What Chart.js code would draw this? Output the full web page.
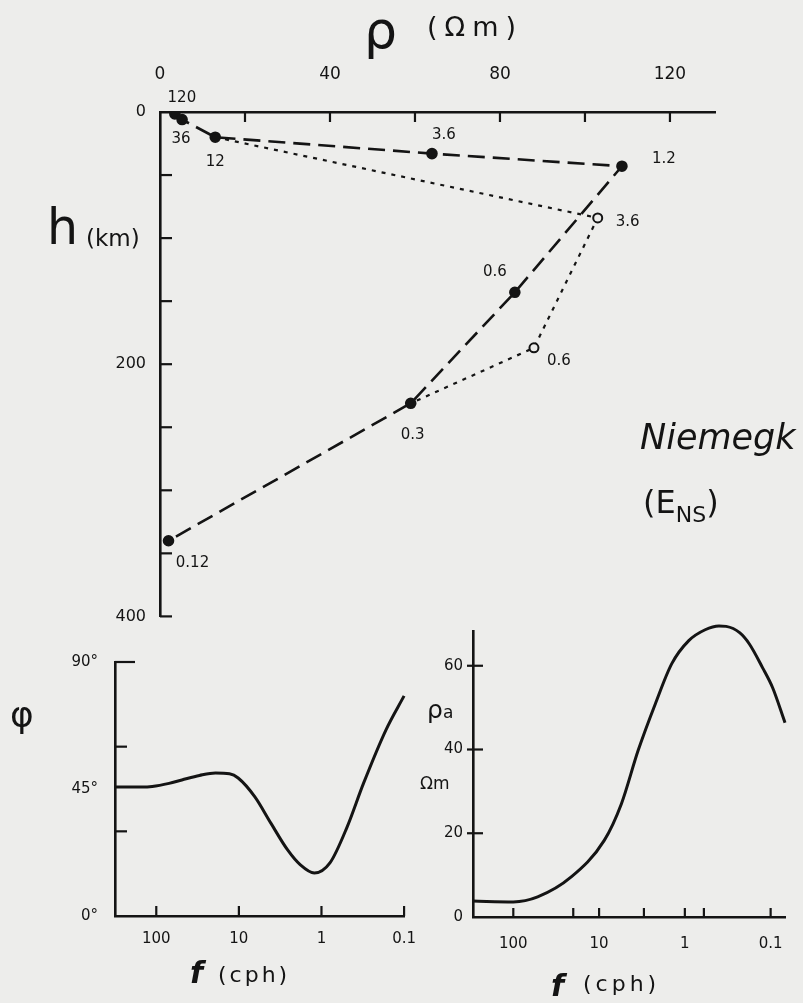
<!DOCTYPE html>
<html lang="de">
<head>
<meta charset="UTF-8" />
<title>Niemegk (E_NS) – ρ(h), φ(f), ρa(f)</title>
<script src="https://cdn.jsdelivr.net/npm/chart.js@4"></script>
<style>
  body {
    margin: 0;
    width: 803px;
    height: 1003px;
    position: relative;
    overflow: hidden;
    background: #ededeb;
    color: #141414;
    font-family: "DejaVu Sans", sans-serif;
  }
  canvas { position: absolute; }
  .lbl { position: absolute; white-space: nowrap; line-height: 1; }
</style>
</head>
<body>
<canvas id="profileChart" width="803" height="640" style="left:0;top:0"></canvas>
<canvas id="phaseChart" width="430" height="373" style="left:0;top:630px"></canvas>
<canvas id="rhoaChart" width="383" height="403" style="left:420px;top:600px"></canvas>

<!-- hand-lettered titles -->
<div class="lbl" style="left:364px;top:4px;font-size:52px">ρ</div>
<div class="lbl" style="left:427px;top:13px;font-size:27px;letter-spacing:7px">(Ωm)</div>
<div class="lbl" style="left:47px;top:203px;font-size:49px">h</div>
<div class="lbl" style="left:86px;top:227px;font-size:23px">(km)</div>
<div class="lbl" style="left:640px;top:420px;font-size:35px;font-style:italic">Niemegk</div>
<div class="lbl" style="left:643px;top:486px;font-size:32px">(E<span style="font-size:22px;position:relative;top:9px">NS</span>)</div>

<div class="lbl" style="left:10px;top:697px;font-size:36px">φ</div>
<div class="lbl" style="left:190px;top:958px;font-size:30px;font-weight:bold;font-style:italic">f</div>
<div class="lbl" style="left:218px;top:964px;font-size:22px;letter-spacing:3px">(cph)</div>

<div class="lbl" style="left:427px;top:697px;font-size:25px">ρ<span style="font-size:17px">a</span></div>
<div class="lbl" style="left:420px;top:775px;font-size:17px">Ωm</div>
<div class="lbl" style="left:551px;top:971px;font-size:30px;font-weight:bold;font-style:italic">f</div>
<div class="lbl" style="left:583px;top:973px;font-size:22px;letter-spacing:4px">(cph)</div>

<script>
  // ---- data ----
  // resistivity profile, filled dots joined by the dashed line
  const rhoFilled = [3.5, 5.2, 13, 64, 108.7, 83.5, 59, 2];
  const depthFilled = [1.5, 6, 20, 33, 43, 143, 231, 340];
  const periodFilled = ["120", "36", "12", "3.6", "1.2", "0.6", "0.3", "0.12"];
  // open circles joined by the dotted line (starts at 12, rejoins at 0.3)
  const rhoOpen = [13, 103, 88, 59];
  const depthOpen = [20, 84, 187, 231];
  const periodOpen = ["", "3.6", "0.6", ""];

  // profile axes
  const rhoLabelTicks = [0, 40, 80, 120];
  const rhoMarkTicks = [20, 40, 60, 80, 100, 120];
  const depthLabelTicks = [0, 200, 400];
  const depthMarkTicks = [50, 100, 150, 200, 250, 300, 350, 400];

  // phase curve
  const phaseFreq = [316, 150, 112, 70, 49, 30, 19.2, 13, 10.2, 6.4, 4.1, 2.57, 1.8, 1.22, 0.79, 0.49, 0.31, 0.166, 0.1];
  const phaseDeg = [45.7, 45.7, 45.9, 47, 48.2, 49.8, 50.7, 50.4, 48.9, 42.2, 32.9, 23.4, 18.1, 15.2, 18.8, 31.5, 47, 65.9, 78];
  const phaseTicks = [0, 45, 90];
  const phaseMarks = [30, 60];
  const freqTicks = [100, 10, 1, 0.1];
  const freqLabels = ["100", "10", "1", "0.1"];

  // apparent resistivity curve
  const rhoaFreq = [295, 100, 52, 21.3, 8.7, 5.5, 3.5, 2.2, 1.42, 0.9, 0.58, 0.4, 0.33, 0.23, 0.177, 0.124, 0.095, 0.068];
  const rhoaVal = [3.8, 3.6, 4.8, 9.5, 18.3, 27, 39.8, 51, 60.5, 66, 68.6, 69.5, 69.4, 67.9, 65.2, 59.5, 54.8, 46.4];
  const rhoaTicks = [0, 20, 40, 60];
  const rhoaMarks = [20, 40, 60];
  const rhoaFreqMarks = [100, 20, 10, 3, 1, 0.6, 0.1];

  // ---- styling ----
  const INK = "#141414";
  const PAPER = "#ededeb";
  const FONT = "DejaVu Sans";
  Chart.defaults.font.family = FONT;
  Chart.defaults.color = INK;

  // label offsets for the period numbers beside the dots
  const filledLabelOffsets = [[7, -16], [-1, 20], [0, 25], [12, -19], [42, -7], [-20, -20], [2, 32], [24, 22]];
  const openLabelOffsets = [[0, 0], [30, 4], [25, 13], [0, 0]];

  // tick marks drawn inward from the axis lines, like the hand drawing
  const inwardTicks = {
    id: "inwardTicks",
    afterDraw(chart, args, opts) {
      const ctx = chart.ctx;
      const area = chart.chartArea;
      ctx.save();
      ctx.strokeStyle = INK;
      ctx.lineWidth = 2.2;
      (opts.marks || []).forEach(m => {
        const scale = chart.scales[m.axis];
        m.values.forEach(v => {
          const p = scale.getPixelForValue(v);
          ctx.beginPath();
          if (scale.isHorizontal()) {
            const y = scale.position === "top" ? area.top : area.bottom;
            const dir = scale.position === "top" ? 1 : -1;
            ctx.moveTo(p, y - dir * (m.out || 0));
            ctx.lineTo(p, y + dir * m.len);
          } else {
            ctx.moveTo(area.left - (m.out || 0), p);
            ctx.lineTo(area.left + m.len, p);
          }
          ctx.stroke();
        });
      });
      ctx.restore();
    }
  };

  // period labels next to the profile points
  const periodLabels = {
    id: "periodLabels",
    afterDatasetsDraw(chart, args, opts) {
      if (!opts.sets) return;
      const ctx = chart.ctx;
      ctx.save();
      ctx.font = "15px " + FONT;
      ctx.fillStyle = INK;
      ctx.textAlign = "center";
      ctx.textBaseline = "middle";
      opts.sets.forEach(set => {
        const meta = chart.getDatasetMeta(set.dataset);
        set.texts.forEach((t, i) => {
          if (!t) return;
          const el = meta.data[i];
          ctx.fillText(t, el.x + set.offsets[i][0], el.y + set.offsets[i][1]);
        });
      });
      ctx.restore();
    }
  };

  function fixedTicks(values) {
    return scale => { scale.ticks = values.map(v => ({ value: v })); };
  }
  const noGrid = { display: true, drawOnChartArea: false, drawTicks: false };
  const axisLine = { display: true, color: INK, width: 2.6 };

  // ---- top: resistivity vs depth ----
  new Chart(document.getElementById("profileChart"), {
    type: "scatter",
    data: {
      datasets: [
        {
          data: rhoFilled.map((r, i) => ({ x: r, y: depthFilled[i] })),
          showLine: true,
          borderColor: INK,
          borderWidth: 2.6,
          borderDash: [17, 8],
          pointRadius: 4.5,
          pointBackgroundColor: INK,
          pointBorderColor: INK
        },
        {
          data: rhoOpen.map((r, i) => ({ x: r, y: depthOpen[i] })),
          showLine: true,
          borderColor: INK,
          borderWidth: 2.2,
          borderDash: [4, 6],
          pointRadius: periodOpen.map(p => (p ? 4.5 : 0)),
          pointBackgroundColor: PAPER,
          pointBorderColor: INK,
          pointBorderWidth: 2
        }
      ]
    },
    options: {
      responsive: false,
      animation: false,
      layout: { padding: { left: 0, top: 0, right: 88, bottom: 20 } },
      plugins: {
        legend: { display: false },
        tooltip: { enabled: false },
        inwardTicks: {
          marks: [
            { axis: "x", values: rhoMarkTicks, len: 10 },
            { axis: "y", values: depthMarkTicks, len: 12 }
          ]
        },
        periodLabels: {
          sets: [
            { dataset: 0, texts: periodFilled, offsets: filledLabelOffsets },
            { dataset: 1, texts: periodOpen, offsets: openLabelOffsets }
          ]
        }
      },
      scales: {
        x: {
          type: "linear",
          position: "top",
          min: 0,
          max: 130.6,
          afterFit: s => { s.height = 112; },
          afterBuildTicks: fixedTicks(rhoLabelTicks),
          grid: noGrid,
          border: axisLine,
          ticks: { autoSkip: false, padding: 27, font: { size: 17 } }
        },
        y: {
          type: "linear",
          reverse: true,
          min: 0,
          max: 400,
          afterFit: s => { s.width = 160; },
          afterBuildTicks: fixedTicks(depthLabelTicks),
          grid: noGrid,
          border: axisLine,
          ticks: { autoSkip: false, padding: 14, font: { size: 16 } }
        }
      }
    },
    plugins: [inwardTicks, periodLabels]
  });

  // ---- bottom left: phase ----
  new Chart(document.getElementById("phaseChart"), {
    type: "line",
    data: {
      datasets: [{
        data: phaseFreq.map((f, i) => ({ x: f, y: phaseDeg[i] })),
        borderColor: INK,
        borderWidth: 3,
        pointRadius: 0,
        cubicInterpolationMode: "monotone",
        capBezierPoints: false,
        clip: false
      }]
    },
    options: {
      responsive: false,
      animation: false,
      layout: { padding: { left: 0, top: 32, right: 20, bottom: 0 } },
      plugins: {
        legend: { display: false },
        tooltip: { enabled: false },
        inwardTicks: {
          marks: [
            { axis: "x", values: freqTicks, len: 10 },
            { axis: "y", values: phaseMarks, len: 12 },
            { axis: "y", values: [90], len: 20 }
          ]
        }
      },
      scales: {
        x: {
          type: "logarithmic",
          reverse: true,
          min: 0.1,
          max: 316,
          afterFit: s => { s.height = 87; },
          afterBuildTicks: fixedTicks(freqTicks),
          grid: noGrid,
          border: axisLine,
          ticks: { autoSkip: false, maxRotation: 0, padding: 14, font: { size: 15 }, callback: (v, i) => freqLabels[i] }
        },
        y: {
          type: "linear",
          min: 0,
          max: 90,
          afterFit: s => { s.width = 115; },
          afterBuildTicks: fixedTicks(phaseTicks),
          grid: noGrid,
          border: axisLine,
          ticks: { autoSkip: false, padding: 17, font: { size: 15 }, callback: v => v + "°" }
        }
      }
    },
    plugins: [inwardTicks]
  });

  // ---- bottom right: apparent resistivity ----
  new Chart(document.getElementById("rhoaChart"), {
    type: "line",
    data: {
      datasets: [{
        data: rhoaFreq.map((f, i) => ({ x: f, y: rhoaVal[i] })),
        borderColor: INK,
        borderWidth: 3,
        pointRadius: 0,
        cubicInterpolationMode: "monotone",
        capBezierPoints: false,
        clip: false
      }]
    },
    options: {
      responsive: false,
      animation: false,
      layout: { padding: { left: 0, top: 31, right: 18, bottom: 0 } },
      plugins: {
        legend: { display: false },
        tooltip: { enabled: false },
        inwardTicks: {
          marks: [
            { axis: "x", values: rhoaFreqMarks, len: 9 },
            { axis: "y", values: rhoaMarks, len: 10, out: 6 }
          ]
        }
      },
      scales: {
        x: {
          type: "logarithmic",
          reverse: true,
          min: 0.068,
          max: 295,
          afterFit: s => { s.height = 86; },
          afterBuildTicks: fixedTicks(freqTicks),
          grid: noGrid,
          border: axisLine,
          ticks: { autoSkip: false, maxRotation: 0, padding: 18, font: { size: 15 }, callback: (v, i) => freqLabels[i] }
        },
        y: {
          type: "linear",
          min: 0,
          max: 68.3,
          afterFit: s => { s.width = 53; },
          afterBuildTicks: fixedTicks(rhoaTicks),
          grid: noGrid,
          border: axisLine,
          ticks: { autoSkip: false, padding: 10, font: { size: 15 } }
        }
      }
    },
    plugins: [inwardTicks]
  });
</script>
</body>
</html>
